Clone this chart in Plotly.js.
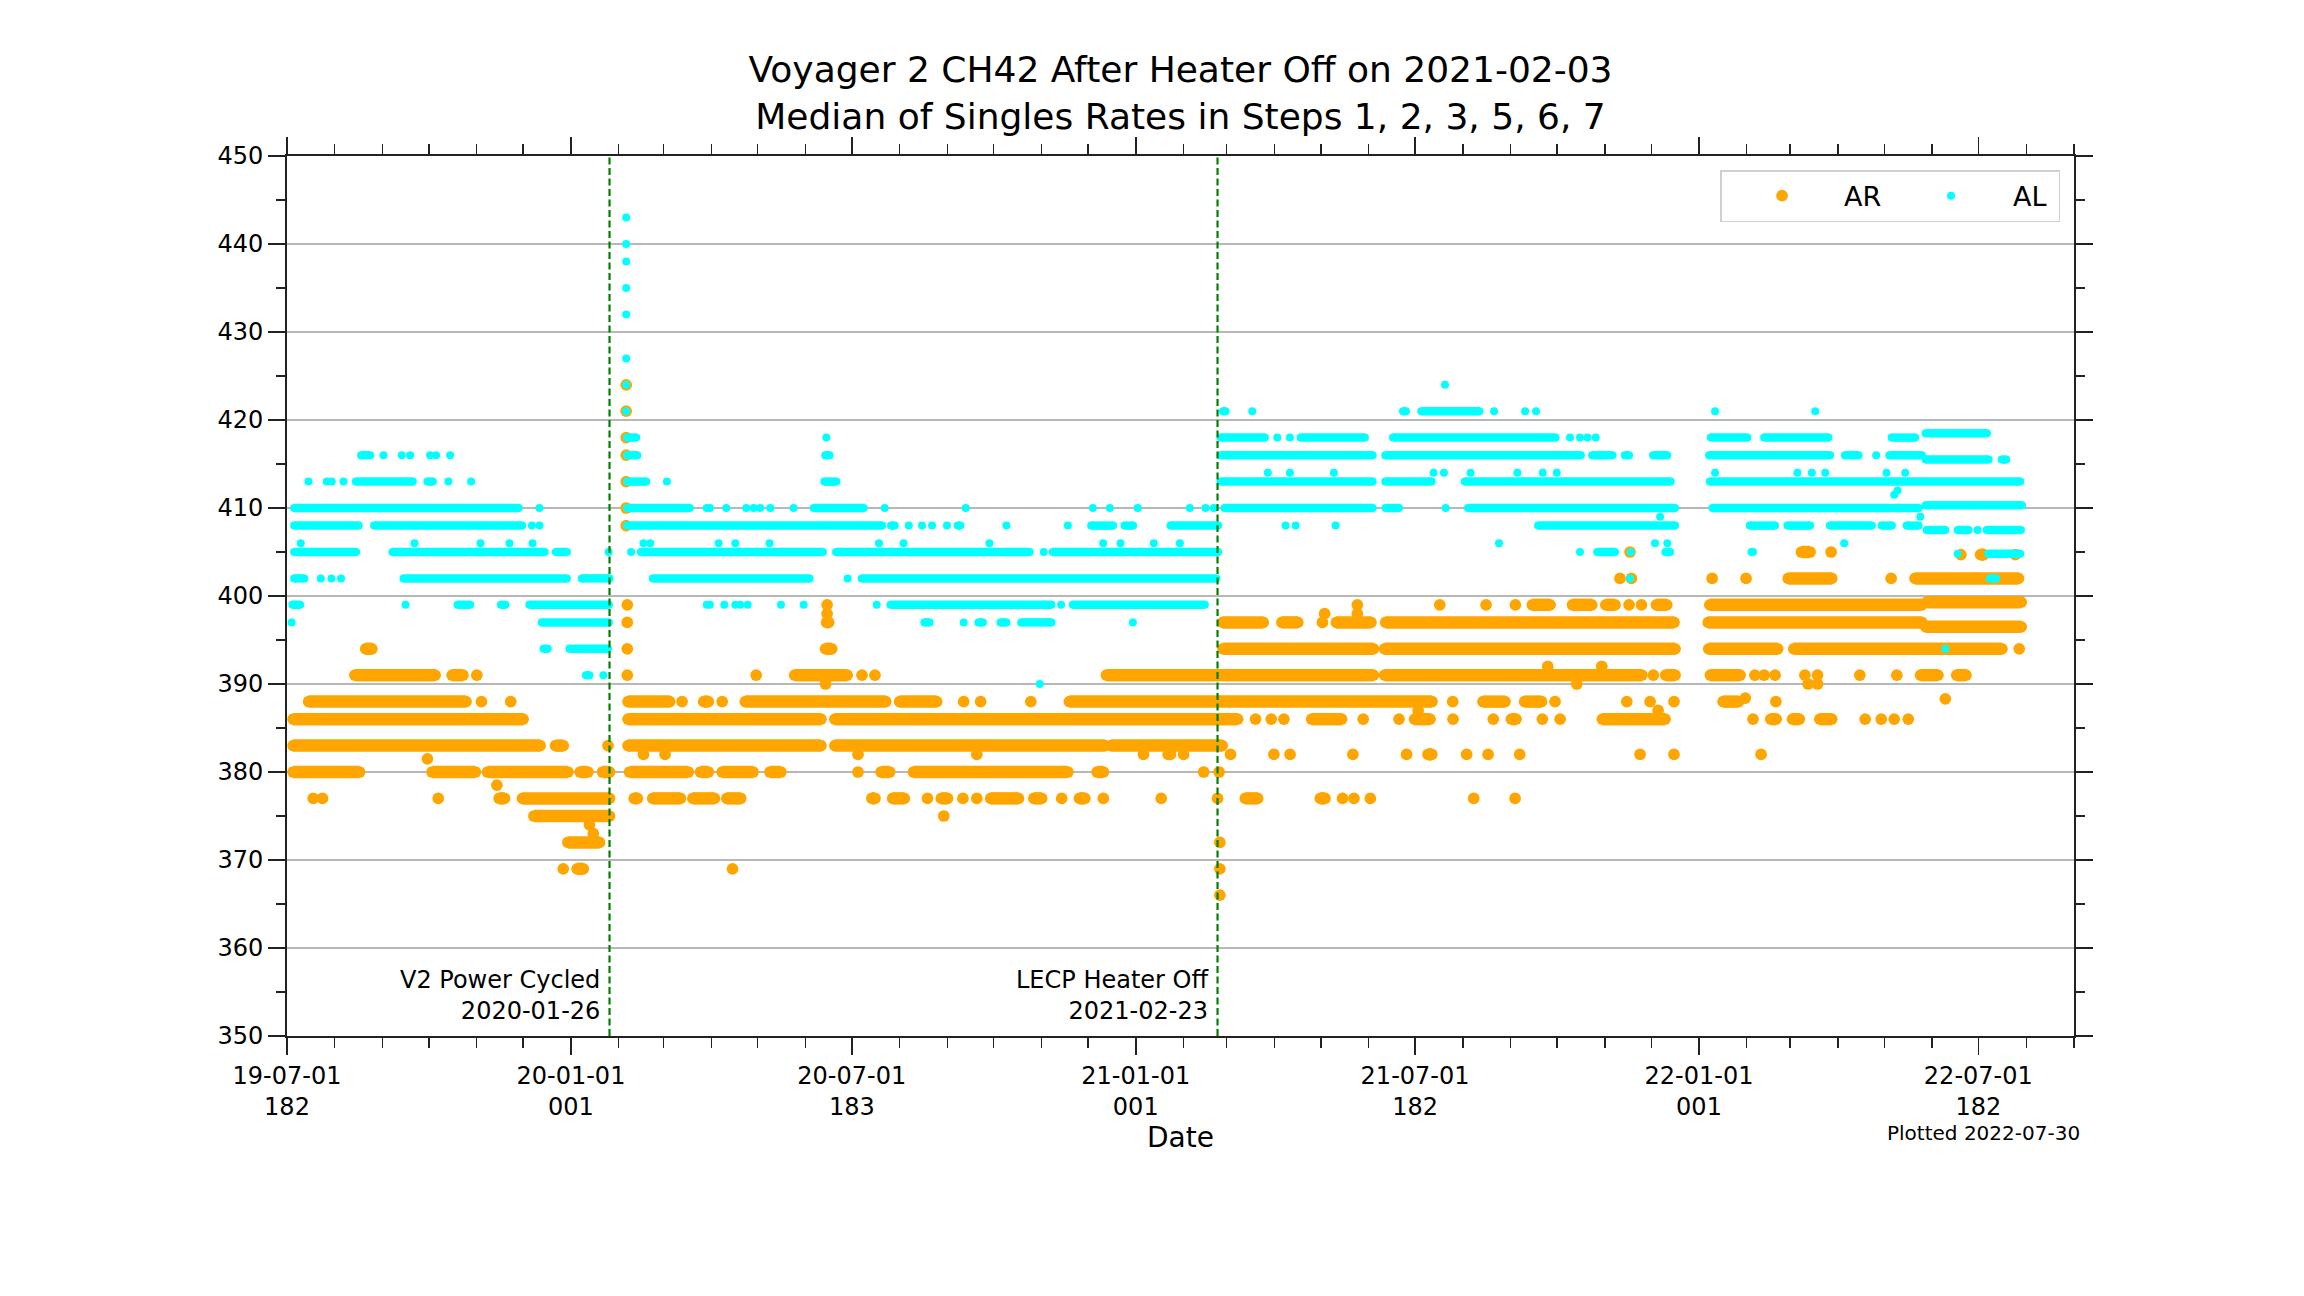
<!DOCTYPE html>
<html>
<head>
<meta charset="utf-8">
<script src="https://cdn.plot.ly/plotly-3.0.1.min.js"></script>
<style>html,body{margin:0;padding:0;background:#fff;}#chart{width:2304px;height:1296px;}</style>
</head>
<body>
<div id="chart"></div>
<script>
// Day offsets are counted from 2019-07-01.
// AR: continuous bands of points (level, first day, last day)
const arRunVal  = [394,391,391,388,386,383,383,380,380,380,380,380,377,377,375,372,369,
  388,388,386,383,380,380,380,377,377,377,377,
  397,394,391,391,388,388,388,386,383,383,380,380,380,380,377,377,377,377,377,377,
  399,399,399,397,397,397,397,394,394,391,391,388,388,386,386,386,386,382,377,377,
  405,404.7,402,402,399,399,399.3,397,396.5,394,394,391,391,391,388,386,386,386];
const arRunFrom = [51,44,107,14,4,4,174,4,94,130,190,204.5,137.5,152.6,160,182,188,
  221,270,221,221,222,268,282,225,237,263,285,
  349.7,349,329,531,297,397,507,355,355,534,313,385,406,525,379,392.5,424,456,484,513.5,
  807,833,854.6,606.5,644.7,680,712,606.5,711.3,711.3,893.4,775,802,664,730.7,793.4,852.4,739.4,621,669.6,
  981.4,1097.5,972.8,1055,887.4,922,1062.5,921,1062,921.3,976.4,922.4,1058.6,1082,930.6,961.5,975.6,993.3];
const arRunTo   = [55,96,114,116,153,164,179,47,122,182,195,209,141,209,209,202.5,192,
  248,273,346,346,260,273,302,227,255,277,294,
  351,353,363,704,388,421,742,616,530,606,320,390.5,506,529,381,400,428,474,489,517,
  818.5,845.5,860.6,632.6,655,702.4,898.8,704,899.5,878,899.5,789.3,813,683.4,740.7,796.4,893,741.8,629,672.6,
  987,1099.5,1001,1122,894.1,1059.4,1123.8,1059.4,1123.8,966,1111.3,941.6,1069.8,1088,940.6,965,980,1001];
// AR: single points (day, value)
const arDotDay = [123,126,145,208,91,136,17,23,98,196,198.5,179,
  219.8,219.8,219.8,219.8,219.8,219.8,219.8,220.5,220.5,220.5,220.5,
  256,282,231,245,
  350,350,304,372.6,381,349,438.5,449.5,482,370,447,555,571,370,415,438,447,502,529,566.5,425.6,288.7,
  693.6,747,777,796,672.4,693.6,671,885.4,817,852,835.8,755.4,821.7,627.6,637.8,646,697.4,720.6,733,755.6,781.7,813.5,825,
  572.5,581,611.4,639.5,650,690.7,725.5,764.4,778.3,798.8,594,604,603,684,691.4,702,769,795.8,604.5,604.5,604.5,
  870.3,1000.6,1084.7,1120,863.8,871.2,923.5,945.5,1039.5,869.7,877.7,1122.5,951.2,957.2,964.3,983.6,991.8,1019.2,1043.2,
  985.7,991.8,1074.6,868.2,883.3,898.8,945,964.8,888.5,950,1022.7,1033.1,1041.5,1050.6,876.8,898.8,955.2];
const arDotVal = [391,388,388,383,381.5,378.5,377,377,377,374,373,369,
  424,421,418,416,413,410,408,399,397,394,391,
  388,388,382,382,
  399,398,391,391,391,390,388,388,388,382,382,382,382,380,377,377,377,377,377,377,375,369,
  399,399,399,399,398,398,397,391,392,392,390,388,388,386,386,386,386,386,387,386,386,386,386,
  382,382,382,382,382,382,382,382,382,382,380,380,377,377,377,377,377,377,372,369,366,
  405,405,404.7,404.7,402,402,402,402,402,399,399,394,391,391,391,391,391,391,391,
  390,390,388.3,388,388,388,388.4,388,387,386,386,386,386,386,382,382,382];

// AL: continuous bands of points (level, first day, last day)
const alRunVal  = [416,413,413,410,408,408,405,405,405,402,402,402,399,399,399,399,397,394,394,391,
  418,416,413,410,408,405,402,
  416,413,410,408,408,408,408,408,405,405,402,399,399,397,397,397,397,
  421,421,421,418,418,418,416,416,416,413,413,413,410,410,410,408,405,
  418.5,418,418,418,416,416,416,416,416,415.5,415.5,413,410.3,410,408,408,408,408,408,407.5,407.5,407.5,405,405,404.8,402];
const alRunFrom = [48,44.6,91,4.6,4.6,56.4,4.6,68.3,174.2,4.6,75.5,191,3.5,110.5,138.6,157,165,166.2,183,193.7,
  220.3,220.3,220.3,220.3,220.3,229.3,237,
  348.8,348.2,341.3,391.4,434.6,521.1,542.7,572.5,355.8,496.2,372.4,391,509.2,413,448,462.3,475.7,
  606.5,723.2,735,605,656.8,716.7,605,711.7,845.7,605,711.7,763.2,607.5,711.9,765.3,810.7,849,
  1061.8,922.6,957.2,1039.8,866.9,885.2,921.5,1009.5,1038.3,1061.8,1111.1,922,1061.8,923.7,947.9,972.3,999.8,1033.3,1049.5,1062.5,1082.6,1101.4,893.2,949,1102.4,1103.5];
const alRunTo   = [54,81.5,94.5,150.2,46.5,152.4,44.8,167,181.4,11.3,181.4,209,8.5,118.7,141.6,208.6,208.6,169,208,196,
  226.3,227,232.8,261,385.6,347.3,338.7,
  351.6,356,373.7,393.8,436.3,535.3,548.3,603.4,481.3,603.4,602.3,495.4,594.8,416.5,451,466.2,495.4,
  608.2,725.1,772.7,633.7,698.5,822.1,703.5,838.4,858.9,703.5,741.8,896.7,703.5,720.6,899.5,899.5,860.6,
  1101.6,946.4,998.9,1055.1,869.7,894.5,1000,1018.4,1059.4,1102.7,1114.1,1123.2,1124.3,1057.3,964.3,987,1027,1040,1057.3,1074.6,1089.7,1123.6,896.3,950,1123.2,1107.6];
// AL: single points (day, value)
const alDotDay = [62.5,74.4,79.8,92.7,96.6,105.7,13.9,25.8,29,36.6,104.6,119.3,163.6,158.7,163.6,
  8.9,82.6,125.4,144.2,159.1,208.4,21.9,28.8,35,76.8,3,205,
  219.8,219.8,219.8,219.8,219.8,219.8,219.8,219.8,
  246.2,272,274,284.7,231,235.4,279.7,223,272,274,283.4,
  349.5,297.6,302.4,306.7,313.2,328.3,387.3,439.8,522.2,533.2,551.3,
  402.9,411.5,418,427.7,466.2,506,
  290.5,312.7,383.6,399.5,455.2,528.9,540.1,561.7,578.6,490.4,363.3,
  290.5,293.7,298.5,320.1,334.8,382.1,501.6,438.5,548.1,487.8,
  750.4,625.5,782.2,802.3,809.4,641.7,649.9,831.4,837.9,842.7,848.1,
  635.6,649.9,678.4,743,749.7,767,797.3,813.7,822.8,585,595.2,600.6,750.8,647.1,653.6,679.5,785.4,837.9,
  925.4,990.3,1029.8,925.4,978.8,988.1,996.8,1036.5,1048.6,1043.7,1041.5,889.8,1058.4,1095.5,
  886.5,894.5,1009.1,870.8,1082.6,870.3,1074.6];
const alDotVal = [416,416,416,416,416,416,413,413,413,413,413,413,410,408,408,
  406,406,406,406,406,405,402,402,402,399,397,391,
  443,440,438,435,432,427,424,421,
  413,410,410,410,406,406,406,405,399,399,399,
  418,410,410,410,410,410,410,410,410,410,410,
  408,408,408,408,408,408,
  406,406,406,406,406,406,406,406,406,405,402,
  399,399,399,399,399,399,399,397,397,390,
  424,421,421,421,421,418,418,418,418,418,418,
  414,414,414,414,414,414,414,414,414,410,410,410,410,408,408,408,406,405,
  421,421,416,414,414,414,414,414,414,412,411.5,409,409,407.5,
  406,406,406,405,404.8,402,394];

// Axis tick labels
const majorTickDates = ['2019-07-01','2020-01-01','2020-07-01','2021-01-01','2021-07-01','2022-01-01','2022-07-01'];
const majorTickText  = ['19-07-01<br>182','20-01-01<br>001','20-07-01<br>183','21-01-01<br>001','21-07-01<br>182','22-01-01<br>001','22-07-01<br>182'];
// Event markers
const eventDates  = ['2020-01-26','2021-02-23'];
const eventLabels = ['V2 Power Cycled<br>2020-01-26','LECP Heater Off<br>2021-02-23'];

const BASE = Date.UTC(2019, 6, 1);
function toDate(d) {
  return new Date(BASE + d * 86400000).toISOString().replace('T', ' ').slice(0, 19);
}
function runsXY(vals, from, to) {
  const x = [], y = [];
  for (let i = 0; i < vals.length; i++) {
    x.push(toDate(from[i]), toDate(to[i]), null);
    y.push(vals[i], vals[i], null);
  }
  return {x, y};
}
function dotsXY(days, vals) {
  return {x: days.map(toDate), y: vals.slice()};
}

const ORANGE = '#FFA500', CYAN = '#00FFFF';
const arR = runsXY(arRunVal, arRunFrom, arRunTo);
const arD = dotsXY(arDotDay, arDotVal);
const alR = runsXY(alRunVal, alRunFrom, alRunTo);
const alD = dotsXY(alDotDay, alDotVal);

const traces = [
  {type:'scatter', mode:'lines+markers', x:arR.x, y:arR.y, connectgaps:false,
   line:{color:ORANGE, width:12.5}, marker:{color:ORANGE, size:11.7}, showlegend:false, hoverinfo:'skip', legendgroup:'AR'},
  {type:'scatter', mode:'markers', name:'AR', x:arD.x, y:arD.y,
   marker:{color:ORANGE, size:11.7}, legendgroup:'AR', hoverinfo:'skip'},
  {type:'scatter', mode:'lines+markers', x:alR.x, y:alR.y, connectgaps:false,
   line:{color:CYAN, width:8.5}, marker:{color:CYAN, size:8}, showlegend:false, hoverinfo:'skip', legendgroup:'AL'},
  {type:'scatter', mode:'markers', name:'AL', x:alD.x, y:alD.y,
   marker:{color:CYAN, size:8}, legendgroup:'AL', hoverinfo:'skip'}
];

const AX = '#222222';
const shapes = eventDates.map(d => ({
  type:'line', xref:'x', yref:'paper', x0:d, x1:d, y0:0, y1:1,
  line:{color:'#008000', width:2.2, dash:'7px,3.5px'}, layer:'above'
}));
const annotations = eventDates.map((d, i) => ({
  xref:'x', yref:'y', x:d, y:351, xanchor:'right', yanchor:'bottom', xshift:-8,
  align:'right', showarrow:false, text:eventLabels[i], font:{size:24, color:'#000'}
}));
annotations.push({
  xref:'paper', yref:'paper', x:1.0045, y:-0.110, xanchor:'right', yanchor:'middle',
  showarrow:false, text:'Plotted 2022-07-30', font:{size:20, color:'#000'}
});

const layout = {
  width:2304, height:1296,
  margin:{l:287, r:230, t:156, b:260, pad:0},
  paper_bgcolor:'#fff', plot_bgcolor:'#fff',
  font:{family:'DejaVu Sans, sans-serif', color:'#000', size:24},
  title:{text:'Voyager 2 CH42 After Heater Off on 2021-02-03<br>Median of Singles Rates in Steps 1, 2, 3, 5, 6, 7',
         font:{size:36, color:'#000'}, x:0.5, xref:'paper', xanchor:'center', y:0.9369, yref:'container', yanchor:'top'},
  xaxis:{type:'date', range:['2019-07-01','2022-09-01'], tickmode:'array', tickvals:majorTickDates, ticktext:majorTickText,
         ticks:'outside', ticklen:17, tickwidth:1.5, tickcolor:AX, showline:true, linecolor:AX, linewidth:1.8,
         mirror:'ticks', showgrid:false, zeroline:false, tickfont:{size:24, color:'#000'},
         minor:{tickmode:'linear', tick0:'2019-07-01', dtick:'M1', ticks:'outside', ticklen:10, tickwidth:1.3, tickcolor:AX, showgrid:false},
         title:{text:'Date', font:{size:28, color:'#000'}, standoff:5}},
  yaxis:{range:[350,450], tickmode:'linear', tick0:350, dtick:10, ticks:'outside', ticklen:17, tickwidth:1.5, tickcolor:AX,
         showline:true, linecolor:AX, linewidth:1.8, mirror:'ticks', showgrid:true, gridcolor:'#b8b8b8', gridwidth:1.5,
         zeroline:false, tickfont:{size:24, color:'#000'},
         minor:{tickmode:'linear', tick0:350, dtick:5, ticks:'outside', ticklen:9, tickwidth:1.3, tickcolor:AX, showgrid:false}},
  legend:{orientation:'h', x:0.9922, xanchor:'right', y:0.984, yanchor:'top', bgcolor:'#fff',
          bordercolor:'#d0d0d0', borderwidth:1.5, font:{size:27, color:'#000'}, entrywidth:40, itemwidth:114},
  shapes:shapes, annotations:annotations
};

Plotly.newPlot('chart', traces, layout, {staticPlot:true, displayModeBar:false});
</script>
</body>
</html>
